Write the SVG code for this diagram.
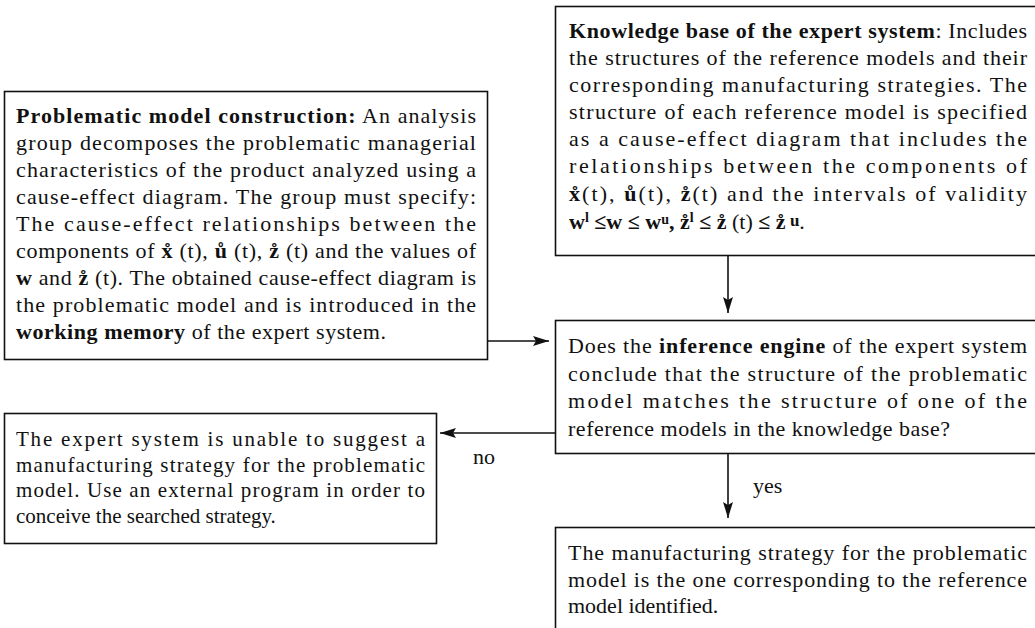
<svg xmlns="http://www.w3.org/2000/svg" width="1035" height="628" viewBox="0 0 1035 628">
<defs>
<style>
.box{fill:#fff;stroke:#111;stroke-width:1.6}
.t{font-family:"Liberation Serif","Times New Roman",serif;font-size:22px;fill:#111}
.s{font-size:21px}
.b{font-weight:bold}
.edge{stroke:#111;stroke-width:1.6;fill:none}
.sup{font-size:14px}
</style>
<marker id="ah" markerUnits="userSpaceOnUse" markerWidth="18" markerHeight="10" refX="16" refY="5" orient="auto">
<path d="M0,0 L16,5 L0,10 L3,5 z" fill="#111"/>
</marker>
</defs>
<rect width="1035" height="628" fill="#fff"/>

<g id="node-problematic">
<rect class="box" x="4.5" y="91.5" width="483" height="268"/>
<text class="t" x="16" y="123" textLength="460" lengthAdjust="spacing"><tspan class="b">Problematic model construction:</tspan> An analysis</text>
<text class="t" x="16" y="150" textLength="460" lengthAdjust="spacing">group decomposes the problematic managerial</text>
<text class="t" x="16" y="177" textLength="460" lengthAdjust="spacing">characteristics of the product analyzed using a</text>
<text class="t" x="16" y="204" textLength="460" lengthAdjust="spacing">cause-effect diagram. The group must specify:</text>
<text class="t" x="16" y="231" textLength="460" lengthAdjust="spacing">The cause-effect relationships between the</text>
<text class="t" x="16" y="258" textLength="460" lengthAdjust="spacing">components of <tspan class="b">x&#x30A;</tspan> (t), <tspan class="b">&#x16F;</tspan> (t), <tspan class="b">z&#x30A;</tspan> (t) and the values of</text>
<text class="t" x="16" y="285" textLength="460" lengthAdjust="spacing"><tspan class="b">w</tspan> and <tspan class="b">z&#x30A;</tspan> (t). The obtained cause-effect diagram is</text>
<text class="t" x="16" y="312" textLength="460" lengthAdjust="spacing">the problematic model and is introduced in the</text>
<text class="t" x="16" y="339" textLength="370" lengthAdjust="spacing"><tspan class="b">working memory</tspan> of the expert system.</text>
</g>

<g id="node-knowledge">
<rect class="box" x="555.5" y="6.5" width="490" height="249"/>
<text class="t" x="569" y="38" textLength="458" lengthAdjust="spacing"><tspan class="b">Knowledge base of the expert system</tspan>: Includes</text>
<text class="t" x="569" y="65" textLength="458" lengthAdjust="spacing">the structures of the reference models and their</text>
<text class="t" x="569" y="92" textLength="458" lengthAdjust="spacing">corresponding manufacturing strategies. The</text>
<text class="t" x="569" y="119" textLength="458" lengthAdjust="spacing">structure of each reference model is specified</text>
<text class="t" x="569" y="146" textLength="458" lengthAdjust="spacing">as a cause-effect diagram that includes the</text>
<text class="t" x="569" y="173" textLength="458" lengthAdjust="spacing">relationships between the components of</text>
<text class="t" x="569" y="201" textLength="458" lengthAdjust="spacing"><tspan class="b">x&#x30A;</tspan>(t), <tspan class="b">&#x16F;</tspan>(t), <tspan class="b">z&#x30A;</tspan>(t) and the intervals of validity</text>
<text class="t" x="569" y="229"><tspan class="b">w<tspan class="sup" dy="-7">l</tspan><tspan dy="7"> ≤w ≤ w</tspan><tspan class="sup" dy="-5">u</tspan><tspan dy="5">, z&#x30A;</tspan><tspan class="sup" dy="-7">l</tspan><tspan dy="7"> ≤ z&#x30A;</tspan></tspan> (t) <tspan class="b">≤ z&#x30A;<tspan dy="-3" font-size="17"> u</tspan></tspan><tspan dy="3">.</tspan></text>
</g>

<g id="node-inference">
<rect class="box" x="555.5" y="320.5" width="490" height="133"/>
<text class="t" x="568" y="353" textLength="459" lengthAdjust="spacing">Does the <tspan class="b">inference engine</tspan> of the expert system</text>
<text class="t" x="568" y="381" textLength="459" lengthAdjust="spacing">conclude that the structure of the problematic</text>
<text class="t" x="568" y="408" textLength="459" lengthAdjust="spacing">model matches the structure of one of the</text>
<text class="t" x="568" y="436" textLength="382" lengthAdjust="spacing">reference models in the knowledge base?</text>
</g>

<g id="node-unable">
<rect class="box" x="4.5" y="413.5" width="432" height="130"/>
<text class="t s" x="16" y="446" textLength="409" lengthAdjust="spacing">The expert system is unable to suggest a</text>
<text class="t s" x="16" y="472" textLength="409" lengthAdjust="spacing">manufacturing strategy for the problematic</text>
<text class="t s" x="16" y="497" textLength="409" lengthAdjust="spacing">model. Use an external program in order to</text>
<text class="t s" x="16" y="523">conceive the searched strategy.</text>
</g>

<g id="node-result">
<rect class="box" x="555.5" y="527.5" width="490" height="120"/>
<text class="t" x="568" y="560" textLength="459" lengthAdjust="spacing">The manufacturing strategy for the problematic</text>
<text class="t" x="568" y="587" textLength="459" lengthAdjust="spacing">model is the one corresponding to the reference</text>
<text class="t" x="568" y="613">model identified.</text>
</g>

<g id="connectors">
<line class="edge" x1="488" y1="341" x2="549" y2="341" marker-end="url(#ah)"/>
<line class="edge" x1="728" y1="256" x2="728" y2="313" marker-end="url(#ah)"/>
<line class="edge" x1="555" y1="433" x2="440" y2="433" marker-end="url(#ah)"/>
<line class="edge" x1="728" y1="454" x2="728" y2="518" marker-end="url(#ah)"/>
<text class="t" x="473" y="464">no</text>
<text class="t" x="753" y="493">yes</text>
</g>
</svg>
